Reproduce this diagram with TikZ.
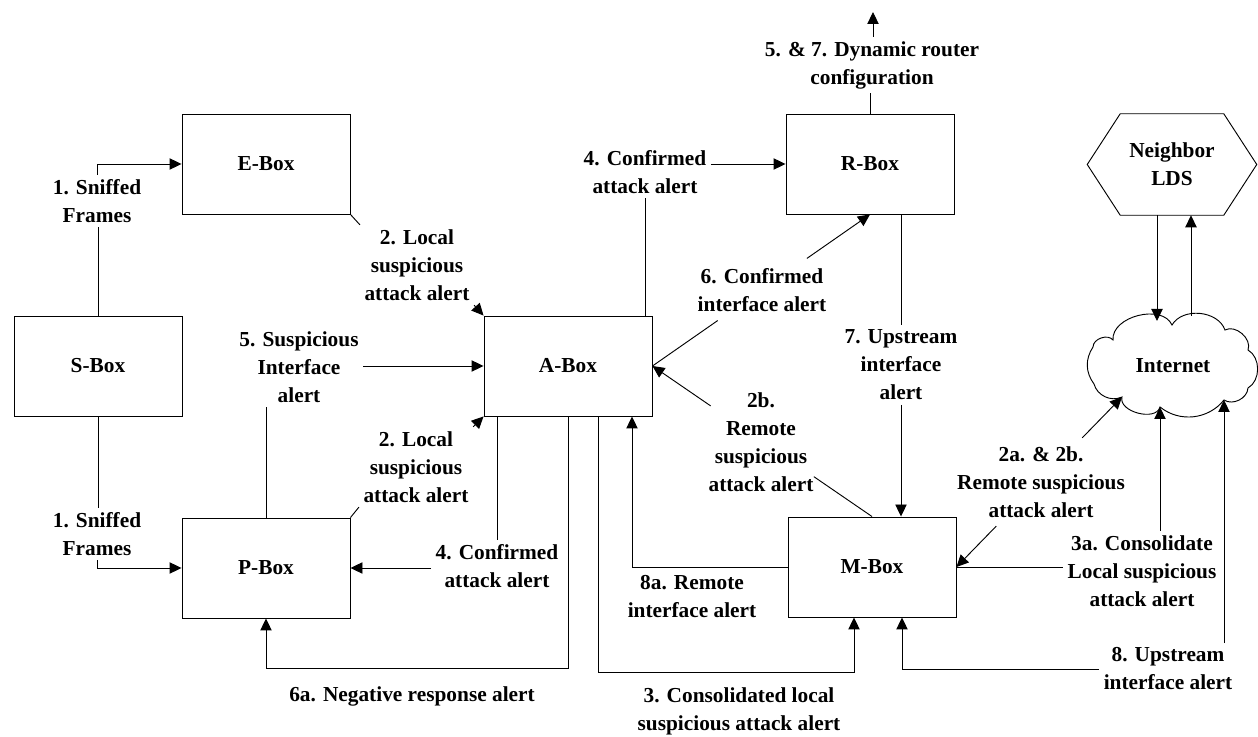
\documentclass[tikz,border=0pt]{standalone}
\usepackage{fontspec}
\setmainfont{Liberation Serif}
\usetikzlibrary{arrows.meta,calc}
\begin{document}
\begin{tikzpicture}[x=0.75pt,y=-0.75pt,
  every node/.style={font=\fontsize{16}{21}\selectfont\bfseries},
  box/.style={draw, line width=0.7pt, minimum width=126pt, minimum height=75pt, inner sep=0pt},
  lbl/.style={align=center, inner sep=0pt, outer sep=3.5pt},
  link/.style={line width=0.7pt},
  arr/.style={link, -{Triangle[length=9pt,width=8.5pt]}}]
\useasboundingbox (0,0) rectangle (1258,737);

% component boxes
\node[box] (E) at (266,164) {E-Box};
\node[box] (S) at (98,366) {S-Box};
\node[box] (P) at (266,568) {P-Box};
\node[box] (A) at (568,366) {A-Box};
\node[box] (R) at (870,164) {R-Box};
\node[box] (M) at (872,567) {M-Box};

% neighbour LDS hexagon
\node[minimum width=126.75pt, minimum height=75.75pt, inner sep=0pt, align=center] (N) at (1172,164.5) {Neighbor\\LDS};
\draw[link] (N.west) -- ($(N.north west)+(33,0)$) -- ($(N.north east)+(-33,0)$) -- (N.east)
  -- ($(N.south east)+(-33,0)$) -- ($(N.south west)+(33,0)$) -- cycle;

% internet cloud
\node (I) at (1173,366) {Internet};
\draw[link] (1094,384) to[bend left=35] (1093,347) to[bend left=70] (1113,340)
  to[bend left=80] (1172,325) to[bend left=65] (1225,330) to[bend left=70] (1248,350)
  to[bend left=60] (1248,388) to[bend left=60] (1224,400) to[bend left=45] (1160,407)
  to[bend left=90] (1122,397) to[bend left=50] (1094,384) -- cycle;
\coordinate (inA) at (1122,397);
\coordinate (inB) at (1160,407);
\coordinate (inC) at (1224,400);
\coordinate (inD) at (1157,321);
\coordinate (inE) at (1191,316);

% 1. sniffed frames
\node[lbl] (l1a) at (97,201) {1. Sniffed\\Frames};
\draw[link] (S.north) -- (S.north |- l1a.south);
\draw[arr] (l1a.north) -- (l1a.north |- E.west) -- (E.west);
\node[lbl] (l1b) at (97,534) {1. Sniffed\\Frames};
\draw[link] (S.south) -- (S.south |- l1b.north);
\draw[arr] (l1b.south) -- (l1b.south |- P.west) -- (P.west);

% 2. local suspicious attack alerts
\node[lbl] (l2a) at (417,265) {2. Local\\suspicious\\attack alert};
\draw[link] (E.south east) -- (l2a.north west);
\draw[arr] (l2a.south east) -- (A.north west);
\node[lbl] (l2b) at (416,467) {2. Local\\suspicious\\attack alert};
\draw[link] (P.north east) -- (l2b.south west);
\draw[arr] (l2b.north east) -- (A.south west);

% 5. suspicious interface alert
\node[lbl] (l5) at (299,367) {5. Suspicious\\Interface\\alert};
\draw[link] (P.north) -- (P.north |- l5.south);
\draw[arr] (l5.east |- A.west) -- (A.west);

% 4. confirmed attack alerts
\node[lbl] (l4a) at (645,172) {4. Confirmed\\attack alert};
\draw[link] (l4a.south |- A.north) -- (l4a.south);
\draw[arr] (l4a.east |- R.west) -- (R.west);
\node[lbl] (l4b) at (497,566) {4. Confirmed\\attack alert};
\draw[link] (l4b.north |- A.south) -- (l4b.north);
\draw[arr] (l4b.west |- P.east) -- (P.east);

% 6. confirmed interface alert
\node[lbl] (l6) at (762,290) {6. Confirmed\\interface alert};
\draw[link] (A.east) -- ($(A.east)!0.3!(R.south)$);
\draw[arr] ($(A.east)!0.71!(R.south)$) -- (R.south);

% 2b. remote suspicious attack alert
\node[lbl] (l2bb) at (761,442) {2b.\\Remote\\suspicious\\attack alert};
\draw[link] (M.north) -- ($(M.north)!0.265!(A.east)$);
\draw[arr] ($(M.north)!0.735!(A.east)$) -- (A.east);

% 7. upstream interface alert
\node[lbl] (l7) at (901,365) {7. Upstream\\interface\\alert};
\draw[link] (R.south -| l7.north) -- (l7.north);
\draw[arr] (l7.south) -- (l7.south |- M.north);

% 5. & 7. router configuration
\node[lbl] (l57) at (872,65) {5. \& 7. Dynamic router\\configuration};
\coordinate (up) at (873,12);
\draw[link] (R.north) -- (R.north |- l57.south);
\draw[arr] (l57.north -| up) -- (up);

% 6a. negative response alert
\node[lbl] (l6a) at (412,696) {6a. Negative response alert};
\draw[arr] (A.south) -- ++(0,252) -| (P.south);

% 3. consolidated local suspicious attack alert
\node[lbl] (l3) at (739,711) {3. Consolidated local\\suspicious attack alert};
\draw[arr] ($(A.south)+(30,0)$) -- ++(0,256) -| ($(M.south)+(-18,0)$);

% 8a. remote interface alert
\node[lbl] (l8a) at (692,597) {8a. Remote\\interface alert};
\draw[arr] (M.west) -| ($(A.south)+(64,0)$);

% 2a. & 2b. remote suspicious attack alert
\node[lbl] (l2ab) at (1041,482) {2a. \& 2b.\\Remote suspicious\\attack alert};
\draw[arr] ($(M.east)!0.24!(inA)$) -- (M.east);
\draw[arr] ($(M.east)!0.76!(inA)$) -- (inA);

% 3a. consolidate local suspicious attack alert
\node[lbl] (l3a) at (1142,571) {3a. Consolidate\\Local suspicious\\attack alert};
\draw[link] (M.east) -- (M.east -| l3a.west);
\draw[arr] (l3a.north -| inB) -- (inB);

% 8. upstream interface alert
\node[lbl] (l8) at (1168,669) {8. Upstream\\interface alert};
\draw[arr] (l8.north -| inC) -- (inC);
\draw[arr] (l8.west) -| ($(M.south)+(30,0)$);

% neighbour exchange
\draw[arr] (N.south -| inD) -- (inD);
\draw[arr] (inE) -- (N.south -| inE);
\end{tikzpicture}
\end{document}
